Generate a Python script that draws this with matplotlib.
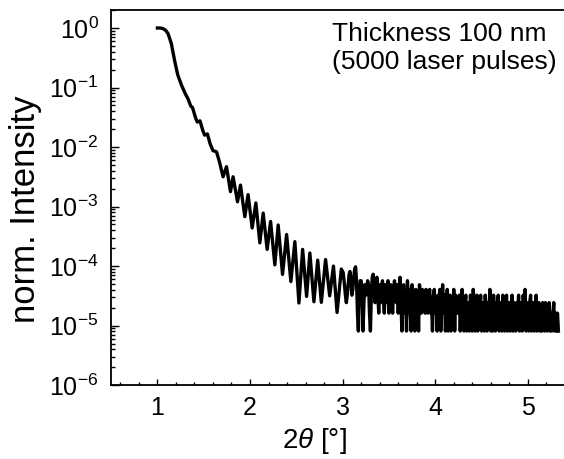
import matplotlib
matplotlib.use('Agg')
import matplotlib.pyplot as plt
import matplotlib.ticker as mticker
import numpy as np

plt.rcParams['font.family'] = ['Liberation Sans', 'DejaVu Sans']
plt.rcParams['mathtext.fontset'] = 'custom'
plt.rcParams['mathtext.rm'] = 'Liberation Sans'
plt.rcParams['mathtext.it'] = 'Liberation Sans:italic'
plt.rcParams['axes.unicode_minus'] = False

# Kiessig fringe part: 2theta [deg] and log10(norm. intensity)
fringe_2theta = [1.00, 1.03, 1.06, 1.09, 1.115, 1.15, 1.19, 1.22, 1.26, 1.30,
                 1.33, 1.36, 1.38, 1.41, 1.43, 1.46, 1.49, 1.51, 1.54, 1.57,
                 1.60, 1.638, 1.67, 1.709, 1.746, 1.789, 1.817, 1.865, 1.897, 1.944,
                 1.979, 2.023, 2.063, 2.106, 2.142, 2.185, 2.222, 2.268, 2.304, 2.351,
                 2.395, 2.441, 2.484, 2.528, 2.568, 2.611, 2.646, 2.69, 2.731, 2.77,
                 2.816, 2.86, 2.901, 2.94, 2.986, 3.006]
fringe_log10I = [0.0, 0.0, -0.01, -0.04, -0.095, -0.26, -0.58, -0.79, -0.96, -1.10,
                 -1.19, -1.31, -1.34, -1.50, -1.58, -1.56, -1.72, -1.80, -1.78, -1.95,
                 -2.06, -2.08, -2.25, -2.50, -2.33, -2.75, -2.50, -2.92, -2.64, -3.17,
                 -2.80, -3.36, -2.94, -3.61, -3.11, -3.72, -3.25, -3.98, -3.31, -4.14,
                 -3.47, -4.26, -3.59, -4.62, -3.72, -4.51, -3.78, -4.60, -3.90, -4.61,
                 -3.89, -4.50, -4.00, -4.78, -4.05, -4.11]

# noisy background from 3.02 deg on, 0.01 deg steps, in detector counts
tail_start = 3.02
tail_step = 0.01
tail_counts = [6, 4, 3, 4, 6, 9, 10, 7, 4, 5, 8, 11, 12, 7, 2, 1, 4, 7, 7, 5,
               1, 3, 6, 4, 5, 7, 6, 2, 1, 4, 8, 9, 6, 3, 5, 8, 4, 2, 6,
               3, 5, 7, 4, 2, 6, 3, 5, 7, 2, 4, 6, 3, 2, 5, 7, 4, 3, 6, 2,
               4, 8, 3, 1, 5, 6, 2, 4, 1, 7, 3, 5, 2, 1, 6, 4, 3, 1, 5, 2, 4, 1, 6, 3,
               2, 5, 3, 4, 2, 5, 3, 2, 4, 5, 2, 3, 1, 4, 5, 2,
               3, 1, 4, 2, 5, 1, 3, 6, 2, 4, 1, 3, 5, 1, 2, 4, 1, 3, 2, 5, 1, 4, 2, 3,
               2, 4, 1, 3, 5, 2, 1, 3, 4, 1, 2, 3, 1, 4, 2, 1, 5, 3, 1, 2, 4,
               1, 3, 2, 4, 1, 2, 3, 1, 4, 2, 1, 3, 2, 5, 1, 3, 1, 4, 2, 1, 3, 2, 4, 1, 2,
               3, 1, 4, 2, 1, 3, 4, 1, 2, 3, 1, 2, 4, 1, 3, 2, 1, 3, 2, 4,
               1, 2, 3, 1, 4, 2, 5, 1, 3, 2, 1, 3, 4, 1, 2, 3, 1, 2, 4, 1,
               2, 3, 1, 2, 1, 3, 2, 1, 3, 2, 1, 2, 3, 1, 2, 1, 2, 3, 1, 2, 1, 2, 1]
one_count = 8.1e-6  # normalised intensity of a single count

x_ticks = [1, 2, 3, 4, 5]
note = 'Thickness 100 nm\n(5000 laser pulses)'

tail_2theta = tail_start + tail_step * np.arange(len(tail_counts))
two_theta = np.concatenate([fringe_2theta, tail_2theta])
intensity = np.concatenate([10 ** np.array(fringe_log10I),
                            np.array(tail_counts) * one_count])

fig = plt.figure(figsize=(5.64, 4.59), dpi=100)
ax = fig.add_axes([0.197, 0.161, 0.821, 0.817])
ax.plot(two_theta, intensity, color='black', lw=2.4)

ax.set_yscale('log')
ax.set_ylim(1e-6, 2)
ax.set_xlim(0.5, 5.5)
ax.xaxis.set_major_locator(mticker.FixedLocator(x_ticks))
ax.xaxis.set_minor_locator(mticker.MultipleLocator(0.2))
ax.yaxis.set_major_locator(mticker.LogLocator(base=10, numticks=20))
ax.yaxis.set_minor_locator(mticker.LogLocator(base=10, subs=np.arange(2, 10), numticks=20))
ax.yaxis.set_minor_formatter(mticker.NullFormatter())

ax.tick_params(which='both', direction='in', top=False, right=False, width=1.0)
ax.tick_params(axis='y', which='major', length=6, labelsize=18, pad=9)
ax.tick_params(axis='y', which='minor', length=3)
ax.tick_params(axis='x', which='major', length=4, labelsize=18, pad=8)
ax.tick_params(axis='x', which='minor', length=2.2)
for s in ax.spines.values():
    s.set_linewidth(1.3)

ax.set_xlabel(r'2$\it{\theta}$ [°]', fontsize=20)
ax.xaxis.set_label_coords(0.44, -0.11)
ax.set_ylabel('norm. Intensity', fontsize=25, va='center')
ax.yaxis.set_label_coords(-0.184, 0.47)

fig.text(0.589, 0.952, note, fontsize=19, ha='left', va='top')

fig.savefig('out.png', dpi=100)
